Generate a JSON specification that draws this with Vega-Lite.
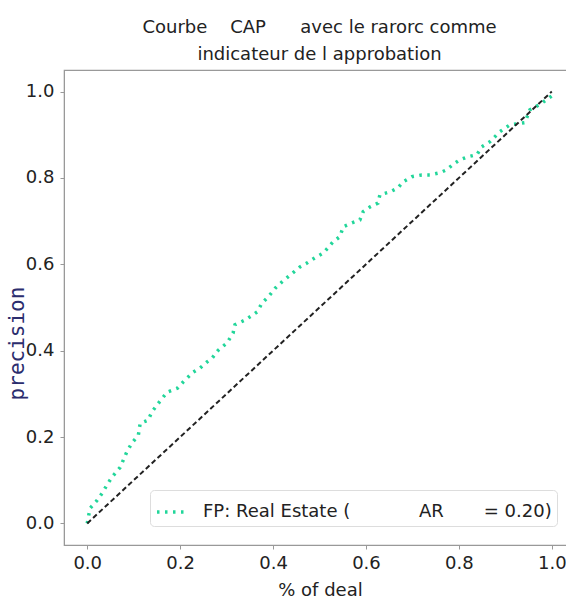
{
  "$schema": "https://vega.github.io/schema/vega-lite/v6.json",
  "autosize": {"type": "none"},
  "padding": {"left": 64, "top": 70, "right": 0, "bottom": 58},
  "width": 511,
  "height": 475,
  "background": "white",
  "config": {
    "font": "DejaVu Sans",
    "view": {"stroke": "#999", "strokeWidth": 1.2},
    "axis": {"grid": false, "domainColor": "#999", "tickColor": "#999", "labelColor": "#222", "labelFontSize": 18, "titleFontSize": 18, "titleFontWeight": "normal", "titleColor": "#222", "tickSize": 4, "labelPadding": 4}
  },
  "title": {
    "text": ["Courbe\u00a0\u00a0\u00a0\u00a0CAP\u00a0\u00a0\u00a0\u00a0\u00a0\u00a0avec le rarorc comme", "indicateur de l approbation"],
    "fontSize": 18,
    "fontWeight": "normal",
    "color": "#222",
    "anchor": "middle",
    "lineHeight": 27,
    "offset": 6
  },
  "datasets": {
    "cap": [
      {"x": 0, "y": 0}, {"x": 0.006, "y": 0.035}, {"x": 0.021, "y": 0.053}, {"x": 0.032, "y": 0.07},
      {"x": 0.042, "y": 0.088}, {"x": 0.053, "y": 0.107}, {"x": 0.071, "y": 0.13}, {"x": 0.085, "y": 0.165},
      {"x": 0.096, "y": 0.186}, {"x": 0.11, "y": 0.204}, {"x": 0.114, "y": 0.232}, {"x": 0.131, "y": 0.239},
      {"x": 0.139, "y": 0.258}, {"x": 0.153, "y": 0.278}, {"x": 0.172, "y": 0.304}, {"x": 0.194, "y": 0.313},
      {"x": 0.206, "y": 0.327}, {"x": 0.228, "y": 0.35}, {"x": 0.243, "y": 0.36}, {"x": 0.258, "y": 0.374},
      {"x": 0.269, "y": 0.383}, {"x": 0.282, "y": 0.401}, {"x": 0.301, "y": 0.418}, {"x": 0.314, "y": 0.441},
      {"x": 0.318, "y": 0.46}, {"x": 0.34, "y": 0.471}, {"x": 0.366, "y": 0.49}, {"x": 0.376, "y": 0.51},
      {"x": 0.39, "y": 0.525}, {"x": 0.405, "y": 0.545}, {"x": 0.42, "y": 0.56}, {"x": 0.44, "y": 0.578},
      {"x": 0.458, "y": 0.594}, {"x": 0.473, "y": 0.603}, {"x": 0.49, "y": 0.615}, {"x": 0.508, "y": 0.626},
      {"x": 0.518, "y": 0.638}, {"x": 0.529, "y": 0.652}, {"x": 0.544, "y": 0.664}, {"x": 0.551, "y": 0.687},
      {"x": 0.57, "y": 0.696}, {"x": 0.587, "y": 0.703}, {"x": 0.594, "y": 0.722}, {"x": 0.609, "y": 0.733},
      {"x": 0.626, "y": 0.742}, {"x": 0.63, "y": 0.761}, {"x": 0.652, "y": 0.768}, {"x": 0.669, "y": 0.777},
      {"x": 0.68, "y": 0.791}, {"x": 0.699, "y": 0.803}, {"x": 0.72, "y": 0.807}, {"x": 0.738, "y": 0.807},
      {"x": 0.759, "y": 0.812}, {"x": 0.774, "y": 0.819}, {"x": 0.787, "y": 0.831}, {"x": 0.802, "y": 0.842},
      {"x": 0.819, "y": 0.849}, {"x": 0.839, "y": 0.854}, {"x": 0.849, "y": 0.872}, {"x": 0.867, "y": 0.884},
      {"x": 0.888, "y": 0.907}, {"x": 0.91, "y": 0.923}, {"x": 0.942, "y": 0.928}, {"x": 0.953, "y": 0.958},
      {"x": 0.974, "y": 0.97}, {"x": 1.0, "y": 0.99}
    ],
    "diag": [{"x": 0, "y": 0}, {"x": 1, "y": 1}]
  },
  "layer": [
    {
      "data": {"name": "cap"},
      "mark": {"type": "line", "strokeWidth": 3.5, "strokeDash": [2.5, 5.5], "strokeCap": "butt"},
      "encoding": {
        "x": {"field": "x", "type": "quantitative", "scale": {"domain": [-0.05, 1.05], "nice": false, "zero": false},
              "axis": {"values": [0, 0.2, 0.4, 0.6, 0.8, 1.0], "format": ".1f", "title": "% of deal", "titleX": 256, "titleY": 45, "titleBaseline": "middle", "titleAlign": "center", "labelPadding": 5}},
        "y": {"field": "y", "type": "quantitative", "scale": {"domain": [-0.05, 1.05], "nice": false, "zero": false},
              "axis": {"values": [0, 0.2, 0.4, 0.6, 0.8, 1.0], "format": ".1f", "title": "precision", "titleX": -47, "titleY": 273, "titleBaseline": "middle", "titleAlign": "center", "titleColor": "#2b2d6e", "titleFont": "DejaVu Sans Mono", "titleFontSize": 21, "labelPadding": 6}},
        "color": {"datum": "FP: Real Estate (\u00a0\u00a0\u00a0\u00a0\u00a0\u00a0\u00a0\u00a0\u00a0\u00a0\u00a0\u00a0AR\u00a0\u00a0\u00a0\u00a0\u00a0\u00a0\u00a0= 0.20)", "type": "nominal",
                  "scale": {"range": ["#22d69a"]},
                  "legend": {"title": null, "orient": "none", "legendX": 86, "legendY": 420, "symbolType": "stroke", "symbolStrokeWidth": 3.5, "symbolDash": [2.5, 5.5], "symbolSize": 900, "symbolStrokeColor": "#22d69a", "labelFontSize": 18, "labelColor": "#222", "labelOffset": 14, "padding": 5, "strokeColor": "#ddd", "fillColor": "white", "cornerRadius": 4, "labelLimit": 500}}
      }
    },
    {
      "data": {"name": "diag"},
      "mark": {"type": "line", "color": "#222", "strokeWidth": 2, "strokeDash": [5, 3]},
      "encoding": {
        "x": {"field": "x", "type": "quantitative"},
        "y": {"field": "y", "type": "quantitative"}
      }
    }
  ]
}
